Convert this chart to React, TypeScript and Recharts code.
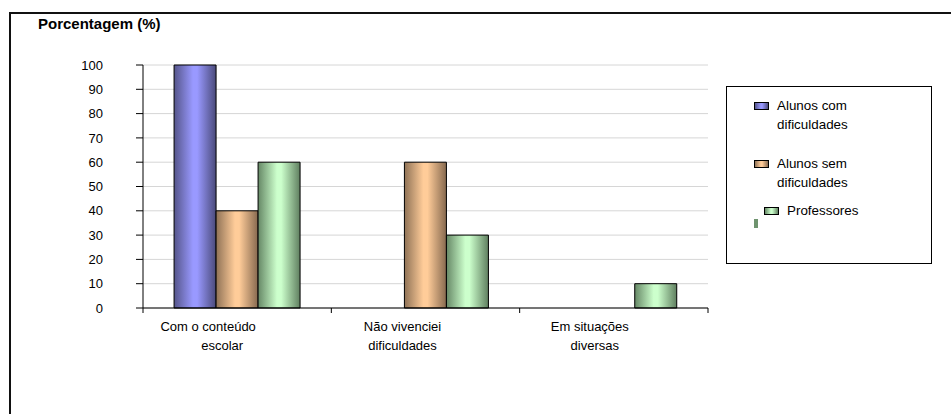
import React from 'react';
import { BarChart, Bar, XAxis, YAxis, CartesianGrid } from 'recharts';

const CATEGORIES = [
    ['Com o conteúdo', 'escolar'],
    ['Não vivenciei', 'dificuldades'],
    ['Em situações', 'diversas'],
];
const ALUNOS_COM = [100, 0, 0];
const ALUNOS_SEM = [40, 60, 0];
const PROFESSORES = [60, 30, 10];
const Y_TICKS = [0, 10, 20, 30, 40, 50, 60, 70, 80, 90, 100];

const data = CATEGORIES.map((lines, i) => ({
    name: lines.join(' '),
    alunosCom: ALUNOS_COM[i],
    alunosSem: ALUNOS_SEM[i],
    professores: PROFESSORES[i],
}));

const W = 951;
const H = 414;
const MARGIN = { top: 65, right: 243, bottom: 0, left: 0 };
const Y_AXIS_W = 143;
const BAND = (W - MARGIN.right - Y_AXIS_W) / CATEGORIES.length;
// excel put the labels a bit left of the category centre
const LABEL_SHIFT = [[-29, -15], [-23, -23], [-24, -19]];
const FONT = '"Liberation Sans", Arial, sans-serif';

const CategoryTick = (props: any) => {
    const { x, y, index } = props;
    const lines = CATEGORIES[index];
    const left = x - BAND / 2;
    return (
        <g>
            {index === 0 && (
                <line x1={left} x2={left + BAND * CATEGORIES.length} y1={y} y2={y} stroke="#000" />
            )}
            <line x1={left} x2={left} y1={y} y2={y + 5} stroke="#000" />
            {index === CATEGORIES.length - 1 && (
                <line x1={x + BAND / 2} x2={x + BAND / 2} y1={y} y2={y + 5} stroke="#000" />
            )}
            {lines.map((t, i) => (
                <text
                    key={i}
                    x={x + LABEL_SHIFT[index][i]}
                    y={y + 22.5 + i * 19}
                    textAnchor="middle"
                    fontSize={13}
                    fontFamily={FONT}
                    fill="#000"
                >
                    {t}
                </text>
            ))}
        </g>
    );
};

const Swatch = ({ grad, style }: { grad: string; style: React.CSSProperties }) => (
    <div style={{ position: 'absolute', width: 15, height: 8, border: '1px solid #000', boxSizing: 'border-box', background: grad, ...style }} />
);

const blueCss = 'linear-gradient(90deg, #55558a, #9999ff 45%, #9999ff 55%, #4a4a7a)';
const orangeCss = 'linear-gradient(90deg, #8f7256, #ffcc99 45%, #ffcc99 55%, #86694f)';
const greenCss = 'linear-gradient(90deg, #668866, #ccffcc 45%, #ccffcc 55%, #5f7f5f)';

const textStyle: React.CSSProperties = { position: 'absolute', fontSize: 13.4, lineHeight: '19px', fontFamily: FONT, color: '#000', whiteSpace: 'nowrap' };

const LegendBox = () => (
    <div style={{ position: 'absolute', left: 726, top: 86, width: 206, height: 178, border: '1px solid #000', boxSizing: 'border-box', background: '#fff' }}>
        <Swatch grad={blueCss} style={{ left: 27, top: 15 }} />
        <div style={{ ...textStyle, left: 50, top: 9 }}>Alunos com<br />dificuldades</div>
        <Swatch grad={orangeCss} style={{ left: 27, top: 73 }} />
        <div style={{ ...textStyle, left: 50, top: 67 }}>Alunos sem<br />dificuldades</div>
        <Swatch grad={greenCss} style={{ left: 37, top: 120 }} />
        <div style={{ ...textStyle, left: 60, top: 114 }}>Professores</div>
        <div style={{ position: 'absolute', left: 27, top: 132, width: 4, height: 9, background: '#6f946f' }} />
    </div>
);

export default function App() {
    return (
        <div style={{ position: 'absolute', left: 0, top: 0, width: W, height: H, background: '#fff', overflow: 'hidden' }}>
            <div style={{ position: 'absolute', left: 9, top: 12, width: W - 9, height: H - 12, borderTop: '2px solid #111', borderLeft: '2px solid #111', boxSizing: 'border-box' }} />
            <div style={{ position: 'absolute', left: 38, top: 15, fontFamily: FONT, fontWeight: 'bold', fontSize: 15, lineHeight: '18px', color: '#000' }}>
                Porcentagem (%)
            </div>
            <div style={{ position: 'absolute', left: 0, top: 0 }}>
                <BarChart width={W} height={H} data={data} margin={MARGIN} barCategoryGap="16.5%" barGap={0}>
                    <defs>
                        <linearGradient id="gBlue" x1="0" y1="0" x2="1" y2="0">
                            <stop offset="0%" stopColor="#55558a" />
                            <stop offset="45%" stopColor="#9999ff" />
                            <stop offset="55%" stopColor="#9999ff" />
                            <stop offset="100%" stopColor="#4a4a7a" />
                        </linearGradient>
                        <linearGradient id="gOrange" x1="0" y1="0" x2="1" y2="0">
                            <stop offset="0%" stopColor="#8f7256" />
                            <stop offset="45%" stopColor="#ffcc99" />
                            <stop offset="55%" stopColor="#ffcc99" />
                            <stop offset="100%" stopColor="#86694f" />
                        </linearGradient>
                        <linearGradient id="gGreen" x1="0" y1="0" x2="1" y2="0">
                            <stop offset="0%" stopColor="#668866" />
                            <stop offset="45%" stopColor="#ccffcc" />
                            <stop offset="55%" stopColor="#ccffcc" />
                            <stop offset="100%" stopColor="#5f7f5f" />
                        </linearGradient>
                    </defs>
                    <CartesianGrid vertical={false} stroke="#d6d6d6" />
                    <XAxis
                        dataKey="name"
                        height={414 - 308}
                        axisLine={false}
                        tickLine={false}
                        tickSize={0}
                        tickMargin={0}
                        interval={0}
                        tick={<CategoryTick />}
                    />
                    <YAxis
                        width={Y_AXIS_W}
                        domain={[0, 100]}
                        ticks={Y_TICKS}
                        interval={0}
                        axisLine={{ stroke: '#000' }}
                        tickLine={{ stroke: '#000' }}
                        tickSize={7}
                        tickMargin={33}
                        tick={{ fill: '#000', fontSize: 13, fontFamily: FONT }}
                    />
                    <Bar dataKey="alunosCom" fill="url(#gBlue)" stroke="#000" strokeWidth={1} isAnimationActive={false} />
                    <Bar dataKey="alunosSem" fill="url(#gOrange)" stroke="#000" strokeWidth={1} isAnimationActive={false} />
                    <Bar dataKey="professores" fill="url(#gGreen)" stroke="#000" strokeWidth={1} isAnimationActive={false} />
                </BarChart>
            </div>
            <LegendBox />
        </div>
    );
}
